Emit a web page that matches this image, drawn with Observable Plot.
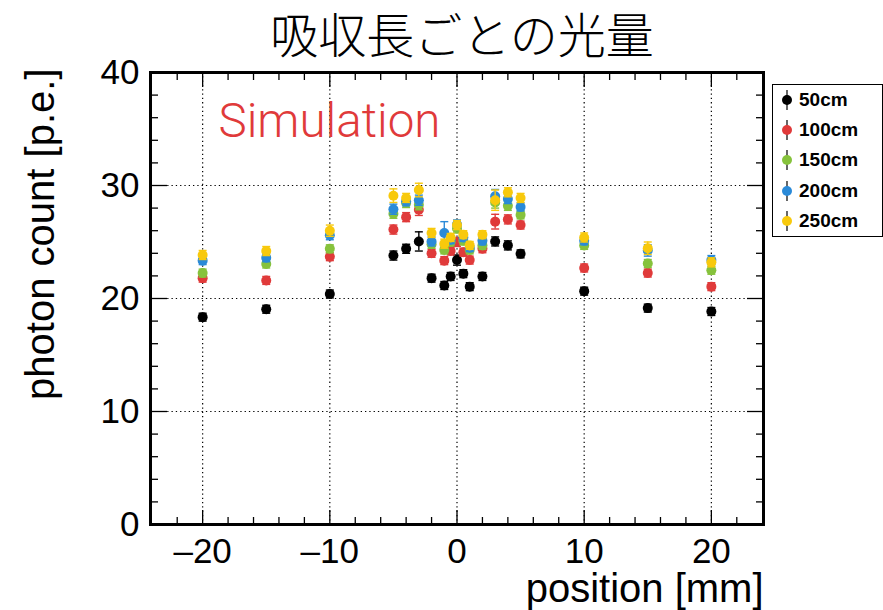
<!DOCTYPE html>
<html>
<head>
<meta charset="utf-8">
<script src="https://cdn.jsdelivr.net/npm/d3@7"></script>
<script src="https://cdn.jsdelivr.net/npm/@observablehq/plot@0.6"></script>
<style>
  html, body { margin: 0; padding: 0; background: #fff; }
  #wrap { position: relative; width: 883px; height: 610px; overflow: hidden; }
  #legend { position: absolute; left: 772px; top: 84px; width: 111px; height: 153px;
    border: 1.5px solid #000; background: #fff; box-sizing: border-box;
    font-family: "Liberation Sans", Arial, Helvetica, sans-serif; font-weight: bold; font-size: 19px; }
  .entry { position: absolute; left: 0; height: 24px; display: flex; align-items: center; }
  .entry svg { display: block; }
  .entry span { margin-left: 6px; line-height: 24px; }
</style>
</head>
<body>
<div id="wrap"><div id="chart"></div><div id="legend"></div></div>
<script>
// ---- data ----
const positions = [-20, -15, -10, -5, -4, -3, -2, -1, -0.5, 0, 0.5, 1, 2, 3, 4, 5, 10, 15, 20];

const seriesNames = ["50cm", "100cm", "150cm", "200cm", "250cm"];
const seriesColors = ["#000000", "#e03a3a", "#86c23c", "#2a8ad8", "#f8c90c"];

const count50  = [18.35, 19.05, 20.4, 23.8, 24.4, 25.05, 21.8, 21.15, 21.95, 23.4, 22.2, 21.05, 21.95, 25.05, 24.7, 23.95, 20.65, 19.15, 18.85];
const count100 = [21.8, 21.6, 23.7, 26.1, 27.2, 27.85, 24.0, 23.35, 24.2, 25.0, 24.1, 23.4, 24.4, 26.8, 27.0, 26.5, 22.7, 22.25, 21.05];
const count150 = [22.25, 23.05, 24.4, 27.5, 28.45, 28.3, 24.8, 24.3, 25.0, 26.2, 25.1, 24.3, 24.7, 28.5, 28.2, 27.4, 24.7, 23.1, 22.5];
const count200 = [23.35, 23.6, 25.6, 27.9, 28.6, 28.7, 25.05, 25.8, 25.2, 26.55, 25.4, 24.5, 25.1, 29.05, 28.8, 28.1, 25.1, 24.25, 23.4];
const count250 = [23.85, 24.2, 26.0, 29.1, 28.9, 29.6, 25.8, 24.85, 25.4, 26.5, 25.65, 24.7, 25.65, 28.7, 29.4, 28.9, 25.4, 24.45, 23.2];

const err50  = [0.35, 0.35, 0.35, 0.4, 0.4, 0.85, 0.35, 0.35, 0.35, 0.45, 0.35, 0.35, 0.35, 0.4, 0.4, 0.35, 0.35, 0.35, 0.35];
const err100 = [0.35, 0.35, 0.35, 0.4, 0.4, 0.5, 0.35, 0.35, 0.35, 0.4, 0.35, 0.35, 0.35, 0.65, 0.4, 0.35, 0.35, 0.35, 0.35];
const err150 = [0.35, 0.35, 0.35, 0.4, 0.4, 0.45, 0.35, 0.35, 0.35, 0.4, 0.35, 0.35, 0.35, 0.5, 0.4, 0.35, 0.35, 0.35, 0.35];
const err200 = [0.35, 0.35, 0.4, 0.45, 0.4, 0.45, 0.4, 1.0, 0.35, 0.4, 0.35, 0.35, 0.35, 0.6, 0.4, 0.35, 0.35, 0.5, 0.4];
const err250 = [0.4, 0.4, 0.5, 0.6, 0.4, 0.6, 0.4, 0.4, 0.35, 0.4, 0.35, 0.35, 0.35, 0.9, 0.4, 0.4, 0.4, 0.55, 0.4];

const xMajorTicks = [-20, -10, 0, 10, 20];
const xMinorTicks = [-22, -18, -16, -14, -12, -8, -6, -4, -2, 2, 4, 6, 8, 12, 14, 16, 18, 22];
const yMajorTicks = [0, 10, 20, 30, 40];
const yMinorTicks = [2, 4, 6, 8, 12, 14, 16, 18, 22, 24, 26, 28, 32, 34, 36, 38];
const xGrid = [-20, -10, 0, 10, 20];
const yGrid = [10, 20, 30];

const titleText = "吸収長ごとの光量";
const xLabel = "position [mm]";
const yLabel = "photon count [p.e.]";
const watermark = "Simulation";

// ---- build ----
const counts = [count50, count100, count150, count200, count250];
const errs = [err50, err100, err150, err200, err250];
const series = seriesNames.map((name, k) => ({
  name, color: seriesColors[k],
  rows: positions.map((x, i) => ({x, y: counts[k][i], e: errs[k][i]}))
}));

const capSymbol = {
  draw(context, size) {
    const r = Math.sqrt(size / Math.PI);
    context.moveTo(-r, 0);
    context.lineTo(r, 0);
  }
};

const fmt = d => d < 0 ? "\u2013" + Math.abs(d) : String(d);
const font = "'Liberation Sans', Arial, Helvetica, sans-serif";
const gridStyle = {stroke: "#000", strokeOpacity: 1, strokeWidth: 1.2, strokeDasharray: "1.3,3"};

const marks = [
  Plot.gridX(xGrid, gridStyle),
  Plot.gridY(yGrid, gridStyle)
];
for (const s of series) {
  marks.push(
    Plot.ruleX(s.rows, {x: "x", y1: d => d.y - d.e, y2: d => d.y + d.e, stroke: s.color, strokeWidth: 1.4}),
    Plot.dot(s.rows, {x: "x", y: d => d.y + d.e, r: 4, symbol: capSymbol, stroke: s.color, strokeWidth: 1.4, fill: "none"}),
    Plot.dot(s.rows, {x: "x", y: d => d.y - d.e, r: 4, symbol: capSymbol, stroke: s.color, strokeWidth: 1.4, fill: "none"}),
    Plot.dot(s.rows, {x: "x", y: "y", r: 5, fill: s.color, stroke: "none"})
  );
}
marks.push(
  Plot.frame({stroke: "#000", strokeWidth: 3}),
  // bottom / top x ticks (inside)
  Plot.axisX(xMajorTicks, {anchor: "bottom", tickSize: -14, tickPadding: 28, tickFormat: fmt, fontSize: 35, strokeWidth: 1.3, label: null}),
  Plot.axisX(xMinorTicks, {anchor: "bottom", tickSize: -7, tickFormat: () => "", strokeWidth: 1.3, label: null}),
  Plot.axisX(xMajorTicks, {anchor: "top", tickSize: -14, tickFormat: () => "", strokeWidth: 1.3, label: null}),
  Plot.axisX(xMinorTicks, {anchor: "top", tickSize: -7, tickFormat: () => "", strokeWidth: 1.3, label: null}),
  // left / right y ticks (inside)
  Plot.axisY(yMajorTicks, {anchor: "left", tickSize: -17, tickPadding: 28, tickFormat: fmt, fontSize: 35, strokeWidth: 1.3, label: null}),
  Plot.axisY(yMinorTicks, {anchor: "left", tickSize: -8, tickFormat: () => "", strokeWidth: 1.3, label: null}),
  Plot.axisY(yMajorTicks, {anchor: "right", tickSize: -17, tickFormat: () => "", strokeWidth: 1.3, label: null}),
  Plot.axisY(yMinorTicks, {anchor: "right", tickSize: -8, tickFormat: () => "", strokeWidth: 1.3, label: null}),
  // texts
  Plot.text([titleText], {frameAnchor: "top", dx: 5, dy: -35, lineAnchor: "middle", fontSize: 48,
    fontFamily: "'Noto Sans CJK JP', sans-serif", fontWeight: 300, fill: "#000"}),
  Plot.text([watermark], {frameAnchor: "top-left", dx: 68, dy: 49, textAnchor: "start", lineAnchor: "middle",
    fontSize: 47.5, fontFamily: "Roboto, sans-serif", fontWeight: 300, fill: "#e03a3a"}),
  Plot.text([yLabel], {frameAnchor: "top-left", dx: -109, dy: -4, rotate: -90, textAnchor: "end", lineAnchor: "middle",
    fontSize: 40, fontFamily: font, fill: "#000"}),
  Plot.text([xLabel], {frameAnchor: "bottom-right", dx: 0, dy: 65, textAnchor: "end", lineAnchor: "middle",
    fontSize: 40, fontFamily: font, fill: "#000"})
);

const chart = Plot.plot({
  width: 883,
  height: 610,
  marginLeft: 150,
  marginRight: 120,
  marginTop: 72,
  marginBottom: 86,
  style: {fontFamily: font, background: "#fff", color: "#000", overflow: "visible"},
  x: {domain: [-24.1, 24.1]},
  y: {domain: [0, 40]},
  marks
});
document.getElementById("chart").appendChild(chart);

// ---- legend ----
const legend = d3.select("#legend");
series.forEach((s, i) => {
  const e = legend.append("div").attr("class", "entry").style("top", (3 + i * 30.2) + "px").style("left", "8px");
  const svg = e.append("svg").attr("width", 12).attr("height", 24);
  svg.append("line").attr("x1", 6).attr("x2", 6).attr("y1", 2).attr("y2", 22).attr("stroke", "#000").attr("stroke-width", 1.2);
  svg.append("circle").attr("cx", 6).attr("cy", 12).attr("r", 5).attr("fill", s.color);
  e.append("span").text(s.name);
});
</script>
</body>
</html>
